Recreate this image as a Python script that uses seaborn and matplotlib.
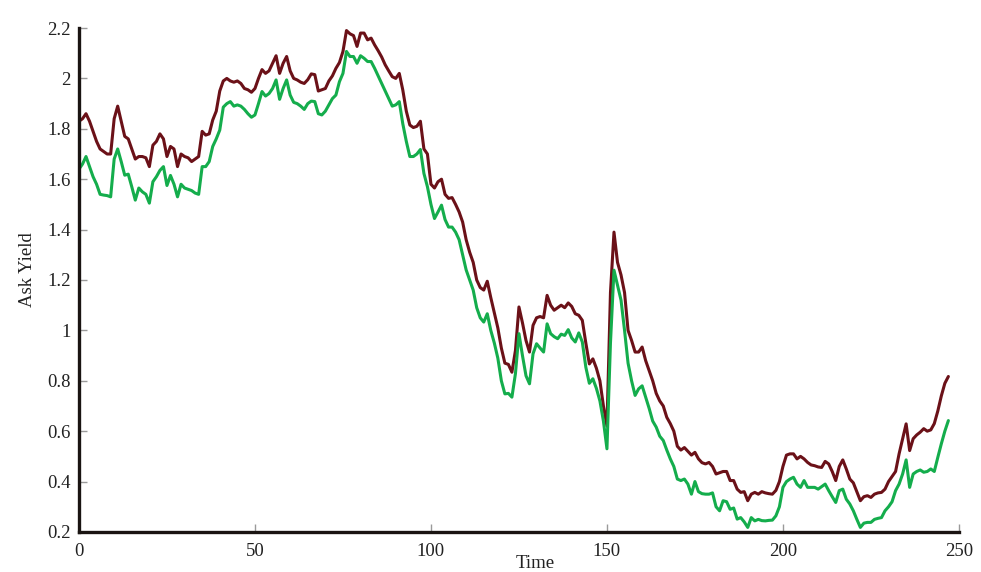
import matplotlib
matplotlib.use('Agg')

import matplotlib.pyplot as plt
import matplotlib.ticker as mticker
import numpy as np
import pandas as pd
import seaborn as sns

# upper (dark red) series, one value per time step 0..247
upper = [
    1.83, 1.84, 1.86, 1.83, 1.79, 1.75, 1.72, 1.71, 1.70, 1.70,
    1.84, 1.89, 1.83, 1.77, 1.76, 1.72, 1.68, 1.69, 1.69, 1.685,
    1.65, 1.735, 1.75, 1.78, 1.76, 1.69, 1.73, 1.72, 1.65, 1.70,
    1.69, 1.685, 1.67, 1.68, 1.69, 1.79, 1.775, 1.78, 1.835, 1.87,
    1.95, 1.99, 2.0, 1.99, 1.985, 1.99, 1.98, 1.96, 1.955, 1.945,
    1.96, 2.0, 2.035, 2.02, 2.03, 2.06, 2.09, 2.02, 2.06, 2.087,
    2.03, 2.0, 1.994, 1.985, 1.98, 1.995, 2.018, 2.015, 1.95, 1.955,
    1.96, 1.99, 2.01, 2.04, 2.063, 2.107, 2.19, 2.177, 2.17, 2.127,
    2.18, 2.18, 2.153, 2.16, 2.133, 2.11, 2.085, 2.054, 2.03, 2.007,
    2.0, 2.02, 1.954, 1.87, 1.815, 1.805, 1.81, 1.83, 1.72, 1.70,
    1.58, 1.565, 1.59, 1.60, 1.54, 1.524, 1.527, 1.50, 1.47, 1.43,
    1.36, 1.31, 1.27, 1.20, 1.17, 1.16, 1.195, 1.13, 1.07, 1.01,
    0.93, 0.87, 0.865, 0.834, 0.92, 1.093, 1.03, 0.96, 0.914, 1.02,
    1.05, 1.055, 1.05, 1.139, 1.10, 1.08, 1.09, 1.10, 1.09, 1.109,
    1.095, 1.066, 1.06, 1.04, 0.95, 0.867, 0.887, 0.85, 0.80, 0.70,
    0.62, 1.15, 1.39, 1.27, 1.22, 1.15, 1.0, 0.96, 0.914, 0.914,
    0.934, 0.88, 0.84, 0.80, 0.75, 0.72, 0.70, 0.655, 0.63, 0.60,
    0.54, 0.525, 0.535, 0.52, 0.505, 0.516, 0.49, 0.475, 0.47, 0.476,
    0.46, 0.43, 0.435, 0.44, 0.44, 0.404, 0.404, 0.37, 0.357, 0.36,
    0.324, 0.35, 0.357, 0.35, 0.36, 0.355, 0.352, 0.35, 0.365, 0.40,
    0.46, 0.505, 0.51, 0.51, 0.49, 0.50, 0.49, 0.476, 0.466, 0.463,
    0.458, 0.456, 0.48, 0.47, 0.44, 0.404, 0.46, 0.486, 0.45, 0.41,
    0.395, 0.36, 0.324, 0.34, 0.344, 0.337, 0.35, 0.355, 0.357, 0.37,
    0.40, 0.42, 0.44, 0.51, 0.57, 0.629, 0.523, 0.57, 0.585, 0.596,
    0.61, 0.60, 0.605, 0.63, 0.68, 0.74, 0.79, 0.817,
]

# lower (green) series
lower = [
    1.64, 1.66, 1.69, 1.65, 1.61, 1.58, 1.54, 1.537, 1.535, 1.53,
    1.68, 1.72, 1.67, 1.616, 1.62, 1.57, 1.517, 1.565, 1.55, 1.54,
    1.505, 1.59, 1.61, 1.635, 1.65, 1.575, 1.615, 1.58, 1.53, 1.58,
    1.565, 1.56, 1.555, 1.545, 1.54, 1.65, 1.65, 1.67, 1.73, 1.76,
    1.795, 1.886, 1.9, 1.908, 1.89, 1.895, 1.89, 1.877, 1.86, 1.846,
    1.855, 1.90, 1.948, 1.93, 1.94, 1.96, 1.994, 1.917, 1.96, 1.994,
    1.934, 1.905, 1.90, 1.89, 1.877, 1.90, 1.91, 1.908, 1.86, 1.855,
    1.87, 1.895, 1.92, 1.934, 1.987, 2.02, 2.107, 2.087, 2.087, 2.06,
    2.09, 2.08, 2.067, 2.067, 2.04, 2.01, 1.98, 1.95, 1.92, 1.89,
    1.895, 1.908, 1.82, 1.75, 1.69, 1.69, 1.70, 1.718, 1.623, 1.57,
    1.50, 1.444, 1.47, 1.497, 1.44, 1.41, 1.41, 1.39, 1.36, 1.30,
    1.24, 1.20, 1.16, 1.09, 1.05, 1.033, 1.066, 1.00, 0.95, 0.89,
    0.80, 0.748, 0.75, 0.735, 0.828, 0.987, 0.90, 0.82, 0.788, 0.907,
    0.947, 0.93, 0.914, 1.026, 0.987, 0.975, 0.967, 0.985, 0.98, 1.003,
    0.97, 0.954, 0.99, 0.954, 0.854, 0.79, 0.808, 0.77, 0.72, 0.64,
    0.53, 0.95, 1.239, 1.18, 1.12, 1.0, 0.87, 0.80, 0.742, 0.768,
    0.78, 0.735, 0.69, 0.64, 0.616, 0.58, 0.563, 0.525, 0.49, 0.46,
    0.41, 0.404, 0.41, 0.39, 0.35, 0.40, 0.36, 0.352, 0.35, 0.35,
    0.355, 0.30, 0.284, 0.324, 0.32, 0.29, 0.295, 0.251, 0.257, 0.24,
    0.218, 0.257, 0.244, 0.25, 0.245, 0.244, 0.246, 0.247, 0.264, 0.30,
    0.377, 0.40, 0.41, 0.417, 0.39, 0.377, 0.404, 0.377, 0.377, 0.377,
    0.37, 0.38, 0.39, 0.364, 0.34, 0.317, 0.364, 0.37, 0.33, 0.311,
    0.284, 0.25, 0.218, 0.235, 0.238, 0.238, 0.25, 0.254, 0.257, 0.284,
    0.30, 0.32, 0.364, 0.39, 0.43, 0.486, 0.377, 0.43, 0.44, 0.446,
    0.437, 0.44, 0.45, 0.44, 0.496, 0.55, 0.60, 0.642,
]

time = np.arange(len(upper))

sns.set_style('white')
plt.rcParams['font.family'] = ['Liberation Serif', 'DejaVu Serif']

df = pd.DataFrame({'Time': time, 'upper': upper, 'lower': lower})

fig = plt.figure(figsize=(9.81, 5.72), dpi=100)
ax = fig.add_axes([0.0805, 0.070, 0.897, 0.881])

sns.lineplot(data=df, x='Time', y='upper', color='#6b1118', linewidth=2.2, ax=ax)
sns.lineplot(data=df, x='Time', y='lower', color='#14ad4c', linewidth=2.2, ax=ax)

ax.set_xlim(0, 250)
ax.set_ylim(0.2, 2.2)
ax.set_xticks([0, 50, 100, 150, 200, 250])
ax.set_yticks([0.2, 0.4, 0.6, 0.8, 1.0, 1.2, 1.4, 1.6, 1.8, 2.0, 2.2])
ax.yaxis.set_major_formatter(mticker.FuncFormatter(lambda v, p: '%g' % round(v, 1)))

for side in ['top', 'right']:
    ax.spines[side].set_visible(False)
for side in ['left', 'bottom']:
    ax.spines[side].set_color('#1a1412')
    ax.spines[side].set_linewidth(2.4)

ax.tick_params(axis='both', which='major', bottom=True, left=True,
               direction='in', length=6, width=1, color='#9a9a9a',
               labelsize=13.5, labelcolor='#222222')
ax.tick_params(axis='x', pad=8)
ax.tick_params(axis='y', pad=6)

ax.set_xlabel('Time', fontsize=13.5, color='#222222', va='top')
ax.set_ylabel('Ask Yield', fontsize=13.5, color='#222222')
ax.xaxis.set_label_coords(0.518, -0.046)
ax.yaxis.set_label_coords(-0.049, 0.52)

fig.savefig('out.png', dpi=100)
plt.close()
